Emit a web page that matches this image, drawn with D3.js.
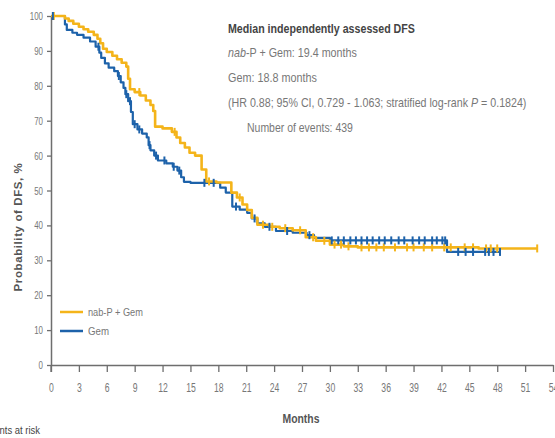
<!DOCTYPE html>
<html>
<head>
<meta charset="utf-8">
<script src="https://cdn.jsdelivr.net/npm/d3@7"></script>
<style>
  html, body { margin: 0; padding: 0; background: #fff; }
  svg { display: block; }
  text { font-family: "Liberation Sans", Arial, sans-serif; }
</style>
</head>
<body>
<div id="chart"></div>
<script>
// Kaplan–Meier disease-free survival, two arms
const xTicks = [0, 3, 6, 9, 12, 15, 18, 21, 24, 27, 30, 33, 36, 39, 42, 45, 48, 51, 54];
const yTicks = [0, 10, 20, 30, 40, 50, 60, 70, 80, 90, 100];

// nab-P + Gem arm: step times (months) and DFS (%)
const nabTime = [0, 1.5, 1.9, 2.4, 3.0, 3.5, 4.0, 4.6, 5.0, 5.3, 5.6, 6.0, 6.6, 7.1, 7.6, 8.1, 8.3, 8.5, 9.0, 9.6, 10.2, 10.7, 11.0, 11.2, 12.0, 13.0, 13.5, 13.9, 14.4, 14.9, 15.5, 16.2, 16.7, 17.8, 19.4, 20.0, 20.6, 21.1, 21.6, 22.2, 23.5, 24.6, 26.0, 27.4, 28.5, 30.0, 31.5, 33.0, 46.0, 52.3];
const nabSurv = [100, 99.3, 98.6, 97.8, 96.9, 96.2, 95.5, 94.6, 93.5, 92.2, 90.6, 89.7, 88.6, 87.6, 86.6, 85.5, 82.0, 79.0, 78.2, 77.2, 75.8, 74.5, 72.8, 68.3, 67.8, 66.8, 65.2, 63.6, 62.3, 60.8, 60.0, 56.0, 52.6, 52.3, 49.4, 48.0, 46.0, 44.4, 42.2, 40.2, 39.6, 39.2, 38.6, 36.6, 35.6, 34.5, 34.0, 33.7, 33.4, 33.4];
const nabCensor = [0.3, 9.5, 13.3, 17.0, 20.3, 22.8, 23.8, 25.2, 26.8, 28.2, 29.4, 30.5, 31.2, 32.0, 33.4, 34.2, 35.0, 35.8, 37.0, 38.3, 39.0, 40.1, 41.0, 42.3, 43.0, 44.5, 45.4, 46.8, 47.3, 48.0, 52.3];

// Gem arm
const gemTime = [0, 1.5, 1.7, 2.3, 2.8, 3.5, 4.2, 4.8, 5.2, 5.4, 5.8, 6.2, 6.8, 7.2, 7.5, 7.8, 8.0, 8.3, 8.6, 8.8, 9.3, 9.8, 10.3, 10.5, 10.7, 11.1, 11.5, 12.4, 13.1, 13.6, 14.0, 14.3, 15.0, 18.2, 18.8, 19.5, 20.3, 21.1, 21.6, 22.2, 23.0, 24.2, 26.0, 27.5, 28.3, 30.0, 42.6, 48.3];
const gemSurv = [100, 97.6, 96.0, 95.2, 94.6, 93.8, 92.7, 91.2, 89.5, 88.0, 86.4, 85.2, 84.2, 82.8, 81.0, 79.4, 77.6, 75.6, 72.5, 69.0, 67.5, 66.3, 65.2, 63.0, 61.5, 60.0, 58.6, 57.8, 56.8, 55.7, 53.8, 52.5, 52.2, 50.8, 49.4, 45.4, 44.5, 43.6, 42.0, 40.6, 39.6, 38.4, 37.9, 37.2, 36.4, 35.7, 32.4, 32.4];
const gemCensor = [0.2, 5.1, 7.3, 8.1, 8.5, 9.0, 9.5, 10.6, 11.3, 12.2, 13.2, 13.8, 16.5, 17.5, 19.9, 21.9, 23.5, 25.4, 27.8, 30.2, 30.9, 31.5, 32.2, 32.8, 33.4, 34.0, 34.6, 35.3, 35.9, 36.6, 37.4, 38.0, 38.9, 39.6, 40.2, 41.0, 41.5, 42.1, 42.4, 43.8, 44.6, 45.4, 46.7, 47.1, 47.6, 48.3];

const seriesNames = ["nab-P + Gem", "Gem"];
const colors = ["#F4B41A", "#1D62AA"];

const W = 555, H = 438;
const svg = d3.select("#chart").append("svg").attr("width", W).attr("height", H);

// condensed lettering for axis ticks: shrink each label to a fraction of its natural width
function squeeze(sel, f) {
  sel.each(function () {
    const w = this.getComputedTextLength();
    d3.select(this).attr("textLength", w * f).attr("lengthAdjust", "spacingAndGlyphs");
  });
}
// condensed text block: a group placed at (xp, yp) and scaled horizontally
// so the text spans the given width (anchor: start or end)
function condensed(parent, xp, yp, parts, width, opts = {}) {
  const g = parent.append("g");
  const t = g.append("text").attr("x", 0).attr("y", 0)
    .attr("font-size", opts.size || 13).attr("fill", opts.fill || "#777");
  if (opts.bold) t.attr("font-weight", "bold");
  parts.forEach(p => t.append("tspan").attr("font-style", p[1] ? "italic" : null).text(p[0]));
  const w = t.node().getComputedTextLength();
  const s = width / w;
  const x0 = opts.anchor === "end" ? xp - width : (opts.anchor === "middle" ? xp - width / 2 : xp);
  g.attr("transform", `translate(${x0},${yp}) scale(${s},1)`);
  return g;
}

const x = d3.scaleLinear().domain([0, 54]).range([51, 553]);
const y = d3.scaleLinear().domain([0, 100]).range([365, 16]);

// axes
const axisColor = "#6e6e6e", labelColor = "#777";
const gx = svg.append("g").attr("transform", `translate(0,${y(0)})`)
  .call(d3.axisBottom(x).tickValues(xTicks).tickSize(7).tickPadding(11).tickSizeOuter(0));
const gy = svg.append("g").attr("transform", `translate(${x(0)},0)`)
  .call(d3.axisLeft(y).tickValues(yTicks).tickSize(4).tickPadding(4).tickSizeOuter(0));
[gx, gy].forEach(g => {
  g.select(".domain").attr("stroke", axisColor).attr("stroke-width", 1.5);
  g.selectAll(".tick line").attr("stroke", axisColor).attr("stroke-width", 1.3);
  g.selectAll(".tick text").attr("font-family", "Liberation Sans, Arial, sans-serif")
    .attr("fill", labelColor).attr("font-size", 12);
});
gy.selectAll(".tick text").attr("font-size", 11);
squeeze(gx.selectAll(".tick text"), 0.72);
squeeze(gy.selectAll(".tick text"), 0.72);
// the y axis line runs a little past the origin
svg.append("line").attr("x1", x(0)).attr("x2", x(0)).attr("y1", y(0)).attr("y2", y(0) + 7)
  .attr("stroke", axisColor).attr("stroke-width", 1.3);

// step curves
function stepValue(times, surv, t) {
  const i = d3.bisectRight(times, t) - 1;
  return surv[Math.max(0, i)];
}
const line = d3.line().x(d => x(d[0])).y(d => y(d[1])).curve(d3.curveStepAfter);
const arms = [
  { time: nabTime, surv: nabSurv, censor: nabCensor, color: colors[0], width: 2.6 },
  { time: gemTime, surv: gemSurv, censor: gemCensor, color: colors[1], width: 2.2 }
];
// Gem drawn first, nab-P + Gem on top where they overlap
[arms[1], arms[0]].forEach(a => {
  const pts = a.time.map((t, i) => [t, a.surv[i]]);
  svg.append("path").datum(pts).attr("d", line)
    .attr("fill", "none").attr("stroke", a.color).attr("stroke-width", a.width)
    .attr("stroke-linejoin", "round");
});
[arms[0], arms[1]].forEach(a => {
  svg.append("g").selectAll("line").data(a.censor).join("line")
    .attr("x1", d => x(d)).attr("x2", d => x(d))
    .attr("y1", d => y(stepValue(a.time, a.surv, d)) - 4)
    .attr("y2", d => y(stepValue(a.time, a.surv, d)) + 4)
    .attr("stroke", a.color).attr("stroke-width", 2);
});

// axis titles
condensed(svg, x(27) - 1, 423, [["Months"]], 37, { size: 13, bold: true, fill: "#555", anchor: "middle" });
svg.append("text")
  .attr("transform", `translate(22,${227}) rotate(-90)`).attr("text-anchor", "middle")
  .attr("font-size", 11.5).attr("font-weight", "bold").attr("letter-spacing", 0.6)
  .attr("fill", "#555").text("Probability of DFS, %");
condensed(svg, 40, 434, [["Patients at risk"]], 62, { size: 11.5, fill: "#444", anchor: "end" });

// legend
const legend = svg.append("g");
seriesNames.forEach((name, i) => {
  const ly = 312 + i * 19;
  legend.append("line").attr("x1", 60).attr("x2", 83).attr("y1", ly).attr("y2", ly)
    .attr("stroke", colors[i]).attr("stroke-width", 2.5);
  condensed(legend, 88, ly + 4, [[name]], i === 0 ? 55 : 21, { size: 11.5 });
});

// median annotation
const note = svg.append("g");
condensed(note, 228, 33, [["Median independently assessed DFS"]], 187, { bold: true, fill: "#444" });
condensed(note, 228, 57, [["nab", true], ["-P + Gem: 19.4 months"]], 129);
condensed(note, 228, 82, [["Gem: 18.8 months"]], 89);
condensed(note, 228, 107, [["(HR 0.88; 95% CI, 0.729 - 1.063; stratified log-rank "], ["P", true], [" = 0.1824)"]], 299);
condensed(note, 247, 132, [["Number of events: 439"]], 106);
</script>
</body>
</html>
